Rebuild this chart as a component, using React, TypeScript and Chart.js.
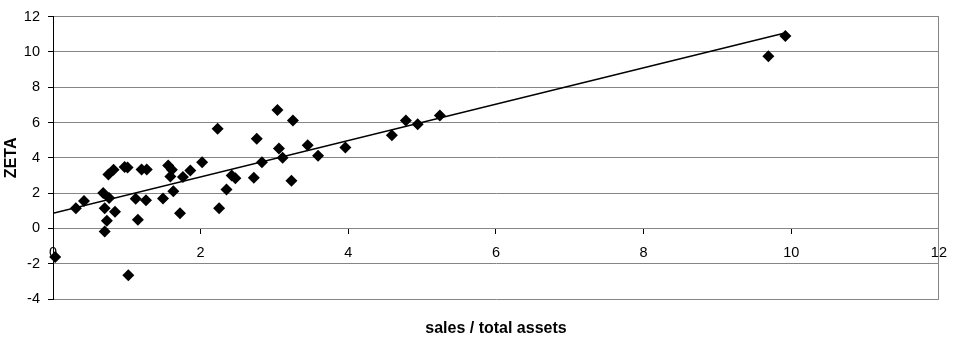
import React, { useEffect, useRef } from "react";
import { Chart, registerables } from "chart.js";

Chart.register(...registerables);

// Observed data: sales / total assets (x) vs ZETA (y)
const salesToAssets: number[] = [
  0.03, 0.31, 0.42, 0.68, 0.70, 0.70, 0.73, 0.75, 0.76, 0.82,
  0.84, 0.97, 1.01, 1.02, 1.12, 1.15, 1.20, 1.26, 1.27, 1.49,
  1.56, 1.59, 1.61, 1.63, 1.72, 1.76, 1.86, 2.02, 2.23, 2.25,
  2.35, 2.42, 2.47, 2.72, 2.76, 2.83, 3.04, 3.06, 3.11, 3.23,
  3.25, 3.45, 3.59, 3.96, 4.59, 4.78, 4.94, 5.24, 9.69, 9.92,
];
const zeta: number[] = [
  -1.62, 1.14, 1.55, 2.01, 1.14, -0.18, 0.43, 3.06, 1.73, 3.32,
  0.95, 3.48, 3.45, -2.65, 1.68, 0.49, 3.34, 1.60, 3.34, 1.70,
  3.56, 2.95, 3.32, 2.10, 0.86, 2.91, 3.28, 3.75, 5.65, 1.14,
  2.20, 3.00, 2.85, 2.87, 5.08, 3.75, 6.71, 4.53, 4.01, 2.70,
  6.12, 4.72, 4.12, 4.59, 5.28, 6.12, 5.90, 6.40, 9.76, 10.91,
];

// Linear trendline endpoints
const trendX: number[] = [0, 9.9];
const trendY: number[] = [0.86, 11.06];

const xTitle = "sales / total assets";
const yTitle = "ZETA";
const xMin = 0, xMax = 12, xStep = 2;
const yMin = -4, yMax = 12, yStep = 2;

const FONT = "'Liberation Sans', Arial, sans-serif";
const GRID = "#858585";

const rightBorder = {
  id: "rightBorder",
  beforeDatasetsDraw(chart: any) {
    const { ctx, chartArea } = chart;
    const x = Math.round(chartArea.right - 0.5) + 0.5;
    ctx.save();
    ctx.strokeStyle = GRID;
    ctx.lineWidth = 1;
    ctx.beginPath();
    ctx.moveTo(x, chartArea.top);
    ctx.lineTo(x, chartArea.bottom);
    ctx.stroke();
    ctx.restore();
  },
};

export default function App() {
  const ref = useRef<HTMLCanvasElement | null>(null);

  useEffect(() => {
    if (!ref.current) return;
    const points = salesToAssets.map((x, i) => ({ x, y: zeta[i] }));
    const trend = trendX.map((x, i) => ({ x, y: trendY[i] }));
    const chart = new Chart(ref.current, {
      type: "scatter",
      data: {
        datasets: [
          {
            type: "line",
            label: "Trend",
            data: trend,
            borderColor: "#000",
            borderWidth: 1.5,
            pointRadius: 0,
            fill: false,
            xAxisID: "x",
            yAxisID: "y",
          } as any,
          {
            label: "ZETA",
            data: points,
            pointStyle: "rectRot",
            pointRadius: 6,
            pointBackgroundColor: "#000",
            pointBorderColor: "#000",
            pointBorderWidth: 0,
            clip: false,
            xAxisID: "x",
            yAxisID: "y",
          } as any,
        ],
      },
      options: {
        responsive: false,
        animation: false,
        devicePixelRatio: 1,
        layout: { padding: { left: 0, right: 17, top: 14, bottom: 0 } },
        plugins: {
          legend: { display: false },
          tooltip: { enabled: false },
        },
        scales: {
          x: {
            type: "linear",
            position: { y: 0 } as any,
            min: xMin,
            max: xMax,
            ticks: {
              stepSize: xStep,
              color: "#000",
              padding: 11,
              font: { family: FONT, size: 14.5 },
            },
            grid: {
              drawOnChartArea: false,
              drawTicks: true,
              tickLength: 5,
              tickColor: "#000",
            },
            border: { display: true, color: GRID, width: 1 },
          },
          x2: {
            type: "linear",
            position: "bottom",
            min: xMin,
            max: xMax,
            ticks: { display: false },
            grid: { display: false, drawTicks: false },
            border: { display: false },
            title: {
              display: true,
              text: xTitle,
              color: "#000",
              font: { family: FONT, size: 16, weight: "bold" },
              padding: { top: 0, bottom: 1 },
            },
            afterFit(scale: any) {
              scale.height = 40;
            },
          },
          y: {
            type: "linear",
            position: "left",
            min: yMin,
            max: yMax,
            ticks: {
              stepSize: yStep,
              color: "#000",
              padding: 8,
              font: { family: FONT, size: 14.5 },
            },
            grid: {
              color: GRID,
              lineWidth: 1,
              drawTicks: true,
              tickLength: 5,
              tickColor: "#000",
            },
            border: { display: true, color: "#000", width: 1 },
            title: {
              display: true,
              text: yTitle,
              color: "#000",
              font: { family: FONT, size: 16, weight: "bold" },
              padding: { top: 2, bottom: 0 },
            },
            afterFit(scale: any) {
              scale.width = 53;
            },
          },
        },
      },
      plugins: [rightBorder],
    });
    return () => chart.destroy();
  }, []);

  return (
    <div style={{ position: "absolute", left: 0, top: 0, width: 958, height: 339, background: "#fff" }}>
      <canvas ref={ref} width={958} height={339} style={{ width: 958, height: 339, display: "block" }} />
    </div>
  );
}
